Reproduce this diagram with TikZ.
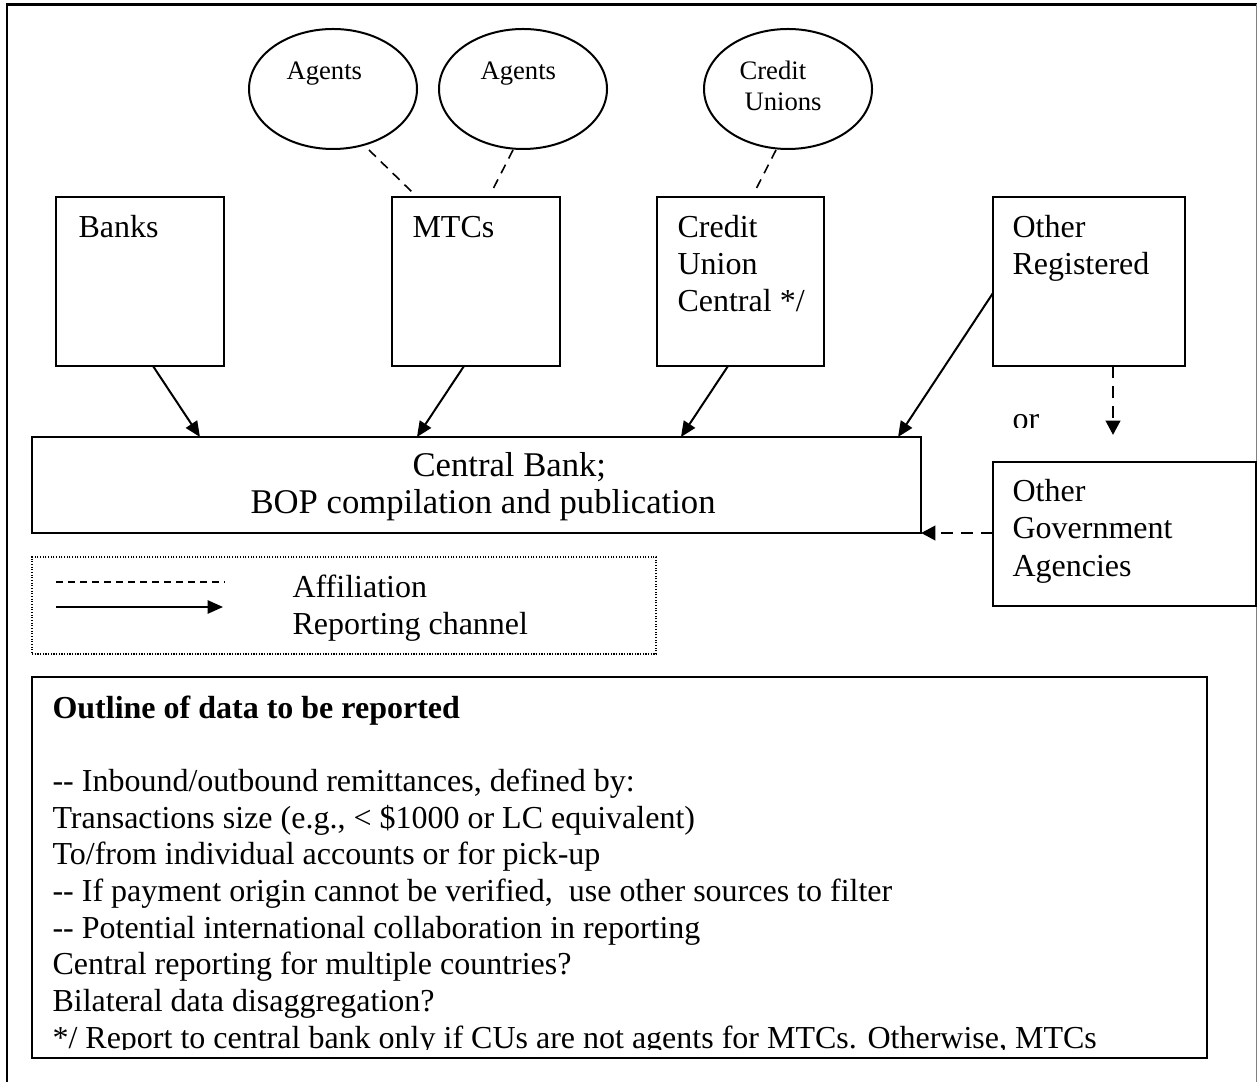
\documentclass[tikz,border=0pt]{standalone}
\usepackage{fontspec}
\setmainfont{Liberation Serif}
\usetikzlibrary{calc,arrows.meta}
\begin{document}
\begin{tikzpicture}[x=0.375pt,y=-0.375pt,
  frame/.style={draw,line width=0.75pt,inner sep=0pt,outer sep=0pt},
  oval/.style={draw,line width=0.75pt},
  txt/.style={anchor=base west,inner sep=0pt,font=\fontsize{12}{13.8}\selectfont},
  bigtxt/.style={anchor=base west,inner sep=0pt,font=\fontsize{13}{15}\selectfont},
  small/.style={anchor=base west,inner sep=0pt,font=\fontsize{10}{11.5}\selectfont},
  affil/.style={line width=0.6pt,dash pattern=on 3.6pt off 2.6pt},
  report/.style={line width=0.75pt,-{Triangle[length=5.8pt,width=5pt]}},
  optional/.style={line width=1.1pt,dash pattern=on 4.5pt off 3pt,
                   -{Triangle[length=5.4pt,width=5.4pt]}},
  legendframe/.style={draw,line width=0.5pt,dash pattern=on 0.45pt off 0.55pt,
                      inner sep=0pt,outer sep=0pt},
]
\useasboundingbox (0,0) rectangle (1257,1082);

% page frame
\begin{scope}
  \clip (0,0) rectangle (1257,1082);
  \draw[line width=0.9pt] (7,1100) -- (7,4.5) -- (1257,4.5);
  \draw[gray,line width=0.5pt] (1256.4,4.5) -- (1256.4,1100);
\end{scope}

% affiliated networks
\coordinate (e1) at (333,89);
\coordinate (e2) at (523,89);
\coordinate (e3) at (788,89);
\draw[oval] (e1) ellipse [x radius=84, y radius=60];
\draw[oval] (e2) ellipse [x radius=84, y radius=60];
\draw[oval] (e3) ellipse [x radius=84, y radius=60];
\node[small] (e1t) at (286,80) {Agents};
\node[small] (e2t) at (480,80) {Agents};
\node[small] (e3t1) at (739,80) {Credit};
\node[small] (e3t2) at (744,111) {Unions};

% reporting institutions
\node[frame,minimum width=63pt,minimum height=63.4pt] (banks) at (140,281.5) {};
\node[frame,minimum width=63pt,minimum height=63.4pt] (mtc) at (476,281.5) {};
\node[frame,minimum width=62.6pt,minimum height=63.4pt] (cuc) at (740.5,281.5) {};
\node[frame,minimum width=72pt,minimum height=63.4pt] (oreg) at (1089,281.5) {};

\node[txt] (banksT) at (78,238) {Banks};
\node[txt] (mtcT) at (412,238) {MTCs};
\node[txt] (cucT1) at (677,238) {Credit};
\node[txt] (cucT2) at (677,275) {Union};
\node[txt] (cucT3) at (677,312) {Central */};
\node[txt] (oregT1) at (1012,238) {Other};
\node[txt] (oregT2) at (1012,275) {Registered};

% central bank
\node[frame,minimum width=333.4pt,minimum height=36pt] (cb) at (476.5,485) {};
\node[bigtxt] (cbT1) at (412,477) {Central Bank;};
\node[bigtxt] (cbT2) at (250,514) {BOP compilation and publication};

% other government agencies
\node[frame,minimum width=98.6pt,minimum height=54pt] (ogov) at (1124.5,534) {};
\node[txt] (ogovT1) at (1012,502) {Other};
\node[txt] (ogovT2) at (1012,539) {Government};
\node[txt] (ogovT3) at (1012,576) {Agencies};

\begin{scope}
  \clip (995,395) rectangle (1070,427.5);
  \node[txt] (orT) at (1012,430) {or};
\end{scope}

% affiliation links
\draw[affil] ($(e1)+(36,61)$) -- ($(mtc.north west)+(21,-4)$);
\draw[affil] ($(e2)+(-10,61)$) -- ($(mtc.north west)+(99,-4)$);
\draw[affil] ($(e3)+(-12,61)$) -- ($(cuc.north west)+(97,-4)$);

% reporting channels
\draw[report] ($(banks.south)+(13,0)$) -- ($(cb.north west)+(168,0)$);
\draw[report] ($(mtc.south)+(-12,0)$) -- ($(cb.north west)+(385,0)$);
\draw[report] ($(cuc.south)+(-12.5,0)$) -- ($(cb.north west)+(649,0)$);
\draw[report] ($(oreg.west)+(0,11.5)$) -- ($(cb.north east)+(-23,0)$);
\draw[optional] ($(oreg.south)+(24,0)$) -- ($(ogov.north)+(-11.5,-27)$);
\draw[optional] ($(ogov.west)+(0,-1)$) -- (cb.south east);

% legend
\node[legendframe,minimum width=234pt,minimum height=36.4pt] (legend) at (344,605.5) {};
\coordinate (la) at (56,582);
\coordinate (lb) at (225,582);
\coordinate (lc) at (56,607);
\coordinate (ld) at (223,607);
\draw[line width=0.5pt,dash pattern=on 2.8pt off 1.7pt] (la) -- (lb);
\draw[report] (lc) -- (ld);
\node[txt] (legA) at (292,597) {Affiliation};
\node[txt] (legR) at (292,634) {Reporting channel};

% outline of data
\node[frame,minimum width=440.6pt,minimum height=142.9pt] (outline) at (619.5,867.5) {};
\node[txt,font=\fontsize{12}{13.8}\selectfont\bfseries] (o0) at (52,718) {Outline of data to be reported};
\node[txt] (o1) at (52,791.4) {-{}- Inbound/outbound remittances, defined by:};
\node[txt] (o2) at (52,828.1) {Transactions size (e.g., < \$1000 or LC equivalent)};
\node[txt] (o3) at (52,864.8) {To/from individual accounts or for pick-up};
\node[txt] (o4) at (52,901.5) {-{}- If payment origin cannot be verified,~ use other sources to filter};
\node[txt] (o5) at (52,938.2) {-{}- Potential international collaboration in reporting};
\node[txt] (o6) at (52,974.9) {Central reporting for multiple countries?};
\node[txt] (o7) at (52,1011.6) {Bilateral data disaggregation?};
\begin{scope}
  \clip (40,1020) rectangle (1200,1049.6);
  \node[txt] (o8) at (52,1048.3) {*/ Report to central bank only if CUs are not agents for MTCs. Otherwise, MTCs};
\end{scope}
\end{tikzpicture}
\end{document}
